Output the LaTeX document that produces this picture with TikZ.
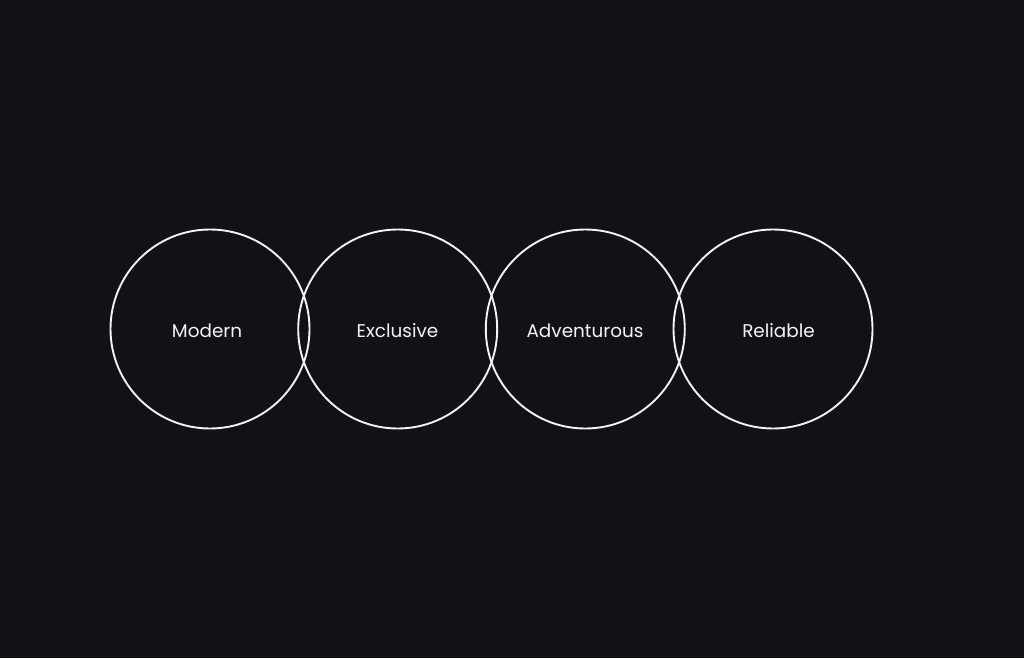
\documentclass[tikz,border=0pt]{standalone}
\usepackage{fontspec}
\setmainfont{Poppins}
\definecolor{bg}{HTML}{111218}
\definecolor{fg}{HTML}{F4F4F4}
\begin{document}
\begin{tikzpicture}[x=1pt,y=-1pt,
  ring/.style={circle,draw=fg,line width=1.9pt,minimum size=199pt,inner sep=0pt},
  lbl/.style={text=fg,font=\fontsize{18.4}{22}\selectfont,inner sep=0pt}]
\fill[bg] (0,0) rectangle (1024,658);
\useasboundingbox (0,0) rectangle (1024,658);
\node[ring] (c1) at (210,329) {};
\node[ring] (c2) at (397.7,329) {};
\node[ring] (c3) at (585.3,329) {};
\node[ring] (c4) at (773,329) {};
\node[lbl] (t1) at (207,331) {Modern};
\node[lbl] (t2) at (397.5,331) {Exclusive};
\node[lbl] (t3) at (585,331) {Adventurous};
\node[lbl] (t4) at (778.5,331) {Reliable};
\end{tikzpicture}
\end{document}
